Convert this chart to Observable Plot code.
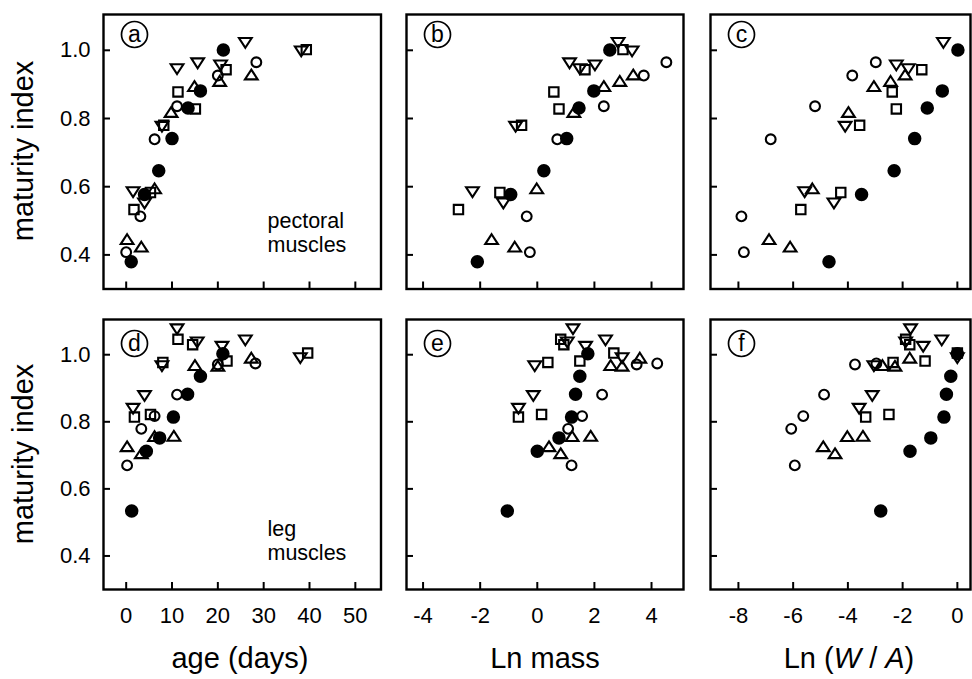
<!DOCTYPE html>
<html><head><meta charset="utf-8">
<script src="https://cdn.jsdelivr.net/npm/d3@7"></script>
<script src="https://cdn.jsdelivr.net/npm/@observablehq/plot@0.6"></script>
<style>
body{margin:0;background:#fff;}
#chart{position:relative;width:972px;height:679px;font-family:"Liberation Sans",Arial,sans-serif;background:#fff;}
#chart .panel{position:absolute;}
#chart svg{overflow:visible;}
</style></head><body><div id="chart"></div>
<script>
// ---------- tick labels ----------
const ageTicks = [0, 10, 20, 30, 40, 50];
const lnMassTicks = [-4, -2, 0, 2, 4];
const lnWATicks = [-8, -6, -4, -2, 0];
const yTicks = [0.4, 0.6, 0.8, 1.0];

// ---------- pectoral muscles (top row) ----------
const pecY_filled      = [0.380, 0.577, 0.647, 0.741, 0.831, 0.881, 1.001];
const pecAge_filled    = [1.1, 4.0, 7.1, 10.0, 13.5, 16.2, 21.2];
const pecLnMass_filled = [-2.10, -0.93, 0.23, 1.03, 1.46, 1.98, 2.54];
const pecLnWA_filled   = [-4.69, -3.50, -2.31, -1.56, -1.10, -0.55, 0.02];

const pecY_open      = [0.408, 0.513, 0.739, 0.836, 0.926, 0.965];
const pecAge_open    = [0.0, 3.1, 6.2, 11.1, 20.0, 28.4];
const pecLnMass_open = [-0.26, -0.37, 0.70, 2.33, 3.73, 4.52];
const pecLnWA_open   = [-7.80, -7.89, -6.82, -5.20, -3.84, -2.98];

const pecY_up      = [0.445, 0.423, 0.594, 0.818, 0.894, 0.909, 0.928];
const pecAge_up    = [0.2, 3.3, 6.2, 9.8, 14.9, 20.4, 27.3];
const pecLnMass_up = [-1.60, -0.79, -0.02, 1.28, 2.33, 2.89, 3.36];
const pecLnWA_up   = [-6.88, -6.11, -5.30, -3.98, -3.05, -2.44, -1.91];

const pecY_down      = [0.585, 0.552, 0.777, 0.946, 0.963, 0.957, 1.023, 0.998];
const pecAge_down    = [1.5, 4.0, 7.8, 11.1, 15.6, 20.6, 26.0, 38.2];
const pecLnMass_down = [-2.27, -1.19, -0.76, 1.49, 1.13, 2.02, 2.83, 3.32];
const pecLnWA_down   = [-5.58, -4.51, -4.10, -1.79, null, -2.23, -0.51, null];

const pecY_square      = [0.533, 0.583, 0.780, 0.878, 0.828, 0.943, 1.002];
const pecAge_square    = [1.7, 5.3, 8.2, 11.3, 15.1, 21.8, 39.3];
const pecLnMass_square = [-2.76, -1.31, -0.55, 0.58, 0.76, 1.67, 3.00];
const pecLnWA_square   = [-5.72, -4.26, -3.57, -2.38, -2.23, -1.30, null];

// ---------- leg muscles (bottom row) ----------
const legY_filled      = [0.534, 0.712, 0.752, 0.814, 0.882, 0.936, 1.003];
const legAge_filled    = [1.2, 4.4, 7.3, 10.3, 13.4, 16.2, 21.1];
const legLnMass_filled = [-1.05, 0.00, 0.76, 1.20, 1.34, 1.49, 1.77];
const legLnWA_filled   = [-2.80, -1.73, -0.97, -0.49, -0.40, -0.24, 0.00];

const legY_open      = [0.670, 0.779, 0.817, 0.881, 0.971, 0.974];
const legAge_open    = [0.2, 3.3, 6.2, 11.1, 20.0, 28.2];
const legLnMass_open = [1.20, 1.08, 1.57, 2.27, 3.48, 4.20];
const legLnWA_open   = [-5.94, -6.07, -5.63, -4.87, -3.74, -2.96];

const legY_up      = [0.726, 0.705, 0.756, 0.757, 0.968, 0.966, 0.990];
const legAge_up    = [0.2, 3.3, 6.2, 10.4, 15.0, 20.0, 27.3];
const legLnMass_up = [0.41, 0.82, 1.22, 1.87, 2.57, 2.97, 3.59];
const legLnWA_up   = [-4.90, -4.47, -4.02, -3.45, -2.74, -2.28, -1.74];

const legY_down      = [0.840, 0.878, 0.967, 1.077, 1.038, 1.025, 1.044, 0.991];
const legAge_down    = [1.5, 4.0, 7.8, 11.1, 15.5, 20.9, 26.0, 38.0];
const legLnMass_down = [-0.66, -0.14, -0.09, 1.25, 1.05, 1.69, 2.39, 2.97];
const legLnWA_down   = [-3.59, -3.11, -3.05, -1.71, -1.89, -1.25, -0.57, 0.00];

const legY_square      = [0.814, 0.822, 0.977, 1.046, 1.030, 0.981, 1.005];
const legAge_square    = [1.8, 5.3, 8.0, 11.3, 14.5, 22.0, 39.6];
const legLnMass_square = [-0.66, 0.15, 0.37, 0.82, 0.93, 1.49, 2.68];
const legLnWA_square   = [-3.35, -2.50, -2.35, -1.89, -1.74, -1.18, 0.00];

// ---------- assemble ----------
const groups = {
  pec: {
    filled: {y: pecY_filled, age: pecAge_filled, lnMass: pecLnMass_filled, lnWA: pecLnWA_filled},
    open:   {y: pecY_open,   age: pecAge_open,   lnMass: pecLnMass_open,   lnWA: pecLnWA_open},
    up:     {y: pecY_up,     age: pecAge_up,     lnMass: pecLnMass_up,     lnWA: pecLnWA_up},
    down:   {y: pecY_down,   age: pecAge_down,   lnMass: pecLnMass_down,   lnWA: pecLnWA_down},
    square: {y: pecY_square, age: pecAge_square, lnMass: pecLnMass_square, lnWA: pecLnWA_square}
  },
  leg: {
    filled: {y: legY_filled, age: legAge_filled, lnMass: legLnMass_filled, lnWA: legLnWA_filled},
    open:   {y: legY_open,   age: legAge_open,   lnMass: legLnMass_open,   lnWA: legLnWA_open},
    up:     {y: legY_up,     age: legAge_up,     lnMass: legLnMass_up,     lnWA: legLnWA_up},
    down:   {y: legY_down,   age: legAge_down,   lnMass: legLnMass_down,   lnWA: legLnWA_down},
    square: {y: legY_square, age: legAge_square, lnMass: legLnMass_square, lnWA: legLnWA_square}
  }
};

// custom symbols
const triUp = {draw(ctx, size) { const r = Math.sqrt(size / Math.PI);
  ctx.moveTo(0, -1.0 * r); ctx.lineTo(1.2 * r, 0.85 * r); ctx.lineTo(-1.2 * r, 0.85 * r); ctx.closePath(); }};
const triDown = {draw(ctx, size) { const r = Math.sqrt(size / Math.PI);
  ctx.moveTo(0, 1.0 * r); ctx.lineTo(1.2 * r, -0.85 * r); ctx.lineTo(-1.2 * r, -0.85 * r); ctx.closePath(); }};
const sq = {draw(ctx, size) { const r = Math.sqrt(size / Math.PI); const h = 0.9 * r;
  ctx.moveTo(-h, -h); ctx.lineTo(h, -h); ctx.lineTo(h, h); ctx.lineTo(-h, h); ctx.closePath(); }};

const seriesDefs = [
  {key: "square", symbol: sq, r: 5.2, fill: "none"},
  {key: "up", symbol: triUp, r: 5.3, fill: "none"},
  {key: "down", symbol: triDown, r: 5.3, fill: "none"},
  {key: "open", symbol: "circle", r: 4.9, fill: "none"},
  {key: "filled", symbol: "circle", r: 5.7, fill: "black"}
];

const cols = [
  {L: 102.5, R: 380, v: "age", domain: [-4.95, 55.6], ticks: ageTicks},
  {L: 406, R: 683, v: "lnMass", domain: [-4.58, 5.12], ticks: lnMassTicks},
  {L: 710, R: 970, v: "lnWA", domain: [-9.02, 0.48], ticks: lnWATicks}
];
const rows = [
  {T: 13.5, B: 288, g: "pec", note: "pectoral\nmuscles", letters: ["a", "b", "c"]},
  {T: 319, B: 589, g: "leg", note: "leg\nmuscles", letters: ["d", "e", "f"]}
];
const yDomain = [0.30, 1.105];
const mL = 60, mR = 4, mT = 4, mB = 40;
const chart = document.getElementById("chart");
const hyphenFmt = d => String(d);

rows.forEach((row, ri) => {
  cols.forEach((col, ci) => {
    const fw = col.R - col.L, fh = row.B - row.T;
    const marks = [];
    marks.push(Plot.tickY(yTicks, {y: d => d, stroke: "black", strokeWidth: 2, insetRight: fw - 7}));
    marks.push(Plot.tickX(col.ticks, {x: d => d, stroke: "black", strokeWidth: 2, insetTop: fh - 7}));
    for (const s of seriesDefs) {
      const src = groups[row.g][s.key];
      const data = src.y.map((y, i) => ({x: src[col.v][i], y})).filter(d => d.x != null);
      marks.push(Plot.dot(data, {x: "x", y: "y", symbol: () => s.symbol, r: s.r,
        fill: s.fill, stroke: "black", strokeWidth: 2.1}));
    }
    // circled panel letter
    const ldy = ri === 0 ? 20 : 24;
    marks.push(Plot.dot([0], {frameAnchor: "top-left", dx: 31, dy: ldy, r: 13, fill: "white", stroke: "black", strokeWidth: 1.7}));
    marks.push(Plot.text([row.letters[ci]], {text: d => d, frameAnchor: "top-left", dx: 31, dy: ldy,
      textAnchor: "middle", lineAnchor: "middle", fontSize: 23, fill: "black"}));
    if (ci === 0) {
      marks.push(Plot.text([row.note], {text: d => d, frameAnchor: "top-left", dx: 164, dy: ri === 0 ? 218 : 221,
        textAnchor: "start", lineAnchor: "middle", lineHeight: 1.1, fontSize: 21.5, fill: "black"}));
      marks.push(Plot.axisY(yTicks, {tickSize: 0, tickPadding: 13, tickFormat: d3.format(".1f"), fontSize: 22, label: null}));
    }
    if (ri === 1) {
      marks.push(Plot.axisX(col.ticks, {tickSize: 0, tickPadding: 18, tickFormat: hyphenFmt, fontSize: 22, label: null}));
    }
    marks.push(Plot.frame({stroke: "black", strokeWidth: 2.4}));
    const p = Plot.plot({
      width: fw + mL + mR, height: fh + mT + mB,
      marginLeft: mL, marginRight: mR, marginTop: mT, marginBottom: mB,
      x: {domain: col.domain, axis: null},
      y: {domain: yDomain, axis: null},
      style: {fontFamily: "'Liberation Sans', Arial, sans-serif", background: "transparent", color: "black", overflow: "visible"},
      marks
    });
    const div = document.createElement("div");
    div.className = "panel";
    div.style.left = (col.L - mL) + "px";
    div.style.top = (row.T - mT) + "px";
    div.style.width = (fw + mL + mR) + "px";
    div.style.height = (fh + mT + mB) + "px";
    div.appendChild(p);
    chart.appendChild(div);
  });
});

// axis titles
const svg = d3.select(chart).append("svg")
  .attr("width", 972).attr("height", 679)
  .style("position", "absolute").style("left", 0).style("top", 0).style("pointer-events", "none")
  .attr("font-family", "'Liberation Sans', Arial, sans-serif").attr("font-size", 29);
const xTitles = [["age (days)", 240], ["Ln mass", 545]];
xTitles.forEach(([t, x]) => svg.append("text").attr("x", x).attr("y", 668).attr("text-anchor", "middle").text(t));
const wa = svg.append("text").attr("x", 849).attr("y", 668).attr("text-anchor", "middle");
wa.append("tspan").text("Ln (");
wa.append("tspan").attr("font-style", "italic").text("W");
wa.append("tspan").text(" / ");
wa.append("tspan").attr("font-style", "italic").text("A");
wa.append("tspan").text(")");
[151, 454].forEach(cy => svg.append("text").attr("transform", `translate(33,${cy}) rotate(-90)`)
  .attr("text-anchor", "middle").text("maturity index"));
</script></body></html>
